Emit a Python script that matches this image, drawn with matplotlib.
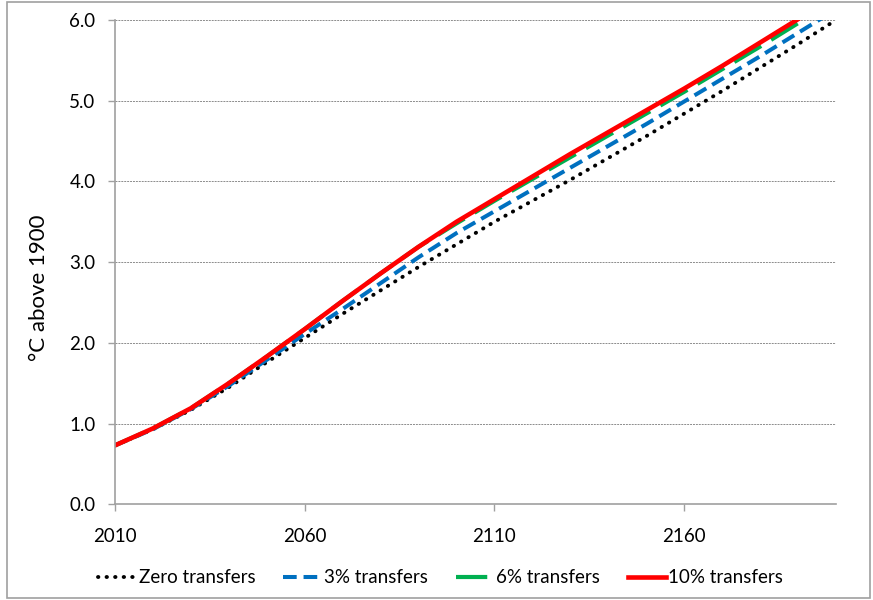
import numpy as np
import matplotlib.pyplot as plt
from matplotlib.patches import Rectangle

years = list(range(2010, 2201, 10))

zero_transfers = [0.73, 0.93, 1.17, 1.45, 1.76, 2.06, 2.36, 2.65, 2.94, 3.22,
                  3.50, 3.76, 4.02, 4.29, 4.56, 4.84, 5.12, 5.41, 5.70, 6.00]
transfers_3 = [0.73, 0.93, 1.18, 1.47, 1.79, 2.11, 2.42, 2.74, 3.06, 3.36,
               3.63, 3.90, 4.17, 4.44, 4.71, 4.99, 5.27, 5.55, 5.84, 6.13]
transfers_6 = [0.73, 0.94, 1.19, 1.50, 1.83, 2.17, 2.52, 2.86, 3.19, 3.48,
               3.76, 4.03, 4.30, 4.57, 4.84, 5.11, 5.39, 5.67, 5.96, 6.25]
transfers_10 = [0.73, 0.94, 1.19, 1.50, 1.83, 2.17, 2.52, 2.86, 3.19, 3.50,
                3.78, 4.06, 4.34, 4.61, 4.88, 5.15, 5.43, 5.72, 6.01, 6.30]

x_ticks = [2010, 2060, 2110, 2160]
y_ticks = [0, 1, 2, 3, 4, 5, 6]

plt.rcParams['font.family'] = ['Lato', 'DejaVu Sans']

fig = plt.figure(figsize=(8.73, 6.0), dpi=100)
ax = fig.add_axes([0.1317, 0.1595, 0.8259, 0.8072])

# lines, drawn bottom to top like the original
ax.plot(years, zero_transfers, color='black', lw=2.8,
        linestyle=(0, (0.1, 2.1)), dash_capstyle='round', label='Zero transfers')
ax.plot(years, transfers_3, color='#0070C0', lw=2.9,
        linestyle=(0, (3.4, 1.7)), label='3% transfers')
ax.plot(years, transfers_6, color='#00B050', lw=3.0,
        linestyle=(0, (7.5, 2.8)), label='6% transfers')
ax.plot(years, transfers_10, color='#FF0000', lw=3.3, label='10% transfers')

ax.set_xlim(2010, 2200)
ax.set_ylim(0, 6)
ax.set_xticks(x_ticks)
ax.set_yticks(y_ticks)
ax.yaxis.set_major_formatter(plt.FormatStrFormatter('%.1f'))
ax.tick_params(labelsize=13.5, colors='#A0A0A0', labelcolor='black', length=5, width=1)
ax.tick_params(axis='x', pad=12)
ax.tick_params(axis='y', pad=9)

ax.grid(axis='y', color='#8C8C8C', linestyle=(0, (2, 1)), lw=0.7)
ax.set_axisbelow(True)
for s in ['top', 'right']:
    ax.spines[s].set_visible(False)
for s in ['left', 'bottom']:
    ax.spines[s].set_color('#A0A0A0')
    ax.spines[s].set_linewidth(1.2)

ax.set_ylabel('°C above 1900', fontsize=16)
ax.yaxis.set_label_coords(-0.092, 0.447)

fig.legend(loc='lower center', bbox_to_anchor=(0.505, -0.005), ncol=4, frameon=False,
           fontsize=13.5, handlelength=2.0, handletextpad=0.15, columnspacing=1.5)

# chart area border
fig.patches.append(Rectangle((0.008, 0.004), 0.989, 0.993, transform=fig.transFigure,
                             fill=False, edgecolor='#A0A0A0', lw=1.2))

fig.savefig('out.png', dpi=100)
